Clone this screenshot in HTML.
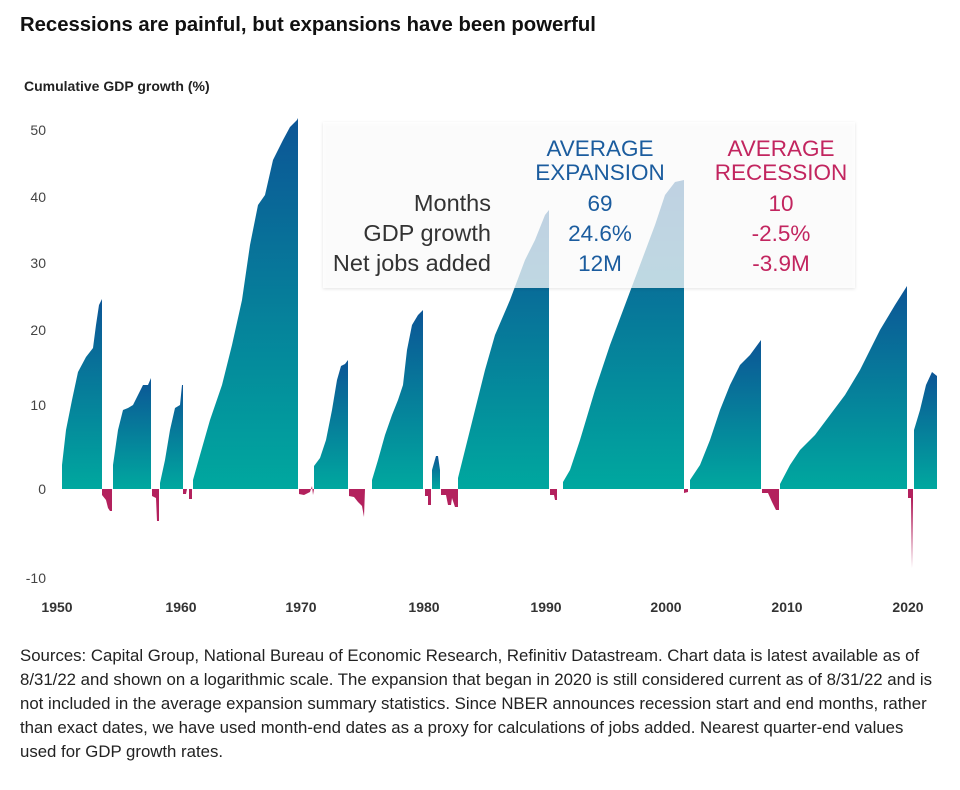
<!DOCTYPE html>
<html><head><meta charset="utf-8"><style>
body{margin:0;background:#fff;width:960px;height:790px;overflow:hidden;font-family:"Liberation Sans",sans-serif;}
.t{position:absolute;left:20px;top:14px;font-size:20.3px;font-weight:bold;color:#111;}
.src{position:absolute;left:20px;top:644px;font-size:16.8px;line-height:24px;color:#222;white-space:nowrap;}
</style></head><body>
<div class="t">Recessions are painful, but expansions have been powerful</div>
<svg width="960" height="640" style="position:absolute;left:0;top:0" font-family="Liberation Sans, sans-serif">
<defs>
<linearGradient id="g" x1="0" y1="1" x2="0" y2="0">
<stop offset="0" stop-color="#00a89f"/><stop offset="1" stop-color="#0c5596"/></linearGradient>
<filter id="sh" x="-5%" y="-5%" width="110%" height="115%"><feDropShadow dx="0" dy="1" stdDeviation="1.5" flood-color="#000" flood-opacity="0.15"/></filter>
</defs>
<text x="24" y="91" font-size="14" font-weight="bold" fill="#222">Cumulative GDP growth (%)</text>
<g font-size="14" fill="#444" text-anchor="end">
<text x="46" y="135">50</text><text x="46" y="202">40</text><text x="46" y="268">30</text>
<text x="46" y="335">20</text><text x="46" y="410">10</text><text x="46" y="494">0</text><text x="46" y="583">-10</text>
</g>
<g font-size="14" font-weight="bold" fill="#333" text-anchor="middle">
<text x="57" y="612">1950</text><text x="181" y="612">1960</text><text x="301" y="612">1970</text><text x="424" y="612">1980</text>
<text x="546" y="612">1990</text><text x="666" y="612">2000</text><text x="787" y="612">2010</text><text x="908" y="612">2020</text>
</g>
<g fill="url(#g)">
<polygon points="62,489 62,465 66,430 72,400 78,372 86,357 93,348 96,325 99,305 102,299 102,489"/>
<polygon points="113,489 113,465 118,430 123,410 128,408 133,405 138,395 143,385 148,385 151,378 151,489"/>
<polygon points="160,489 160,483 165,460 170,430 175,408 180,405 182,385 183,385 183,489"/>
<polygon points="193,489 193,480 200,455 210,420 222,385 232,345 242,300 250,245 258,205 265,195 273,160 283,140 290,127 297,120 298,118 298,489"/>
<polygon points="314,489 314,466 320,458 326,440 332,410 337,380 341,366 345,364 348,360 348,489"/>
<polygon points="372,489 372,480 378,460 385,435 392,415 398,400 403,385 407,350 412,325 418,315 423,310 423,489"/>
<polygon points="432,489 432,470 436,456 438,456 440,470 440,489"/>
<polygon points="458,489 458,478 465,450 475,410 485,370 495,335 510,300 525,260 535,240 545,215 549,210 549,489"/>
<polygon points="563,489 563,482 570,470 580,440 595,390 610,345 625,305 640,265 655,225 665,195 675,182 684,180 684,489"/>
<polygon points="690,489 690,480 700,465 710,440 720,410 730,385 740,365 750,355 761,340 761,489"/>
<polygon points="780,489 780,484 790,465 800,450 815,435 830,415 845,395 860,370 880,330 895,305 907,286 907,489"/>
<polygon points="914,489 914,430 920,410 926,385 932,372 937,376 937,489"/>
</g>
<g fill="#b3215d">
<polygon points="102,489 102,495 106,500 108,508 110,511 112,511 112,489"/>
<polygon points="152,489 152,496 156,498 157,521 159,521 159,489"/>
<polygon points="183,489 183,494 186,494 187,489 189,489 189,499 192,499 192,489"/>
<polygon points="299,489 299,494 304,495 310,492 312,486 313,495 314,489"/>
<polygon points="349,489 349,496 354,497 358,502 362,506 364,517 365,489"/>
<polygon points="425,489 425,496 428,496 428,505 431,505 431,489"/>
<polygon points="441,489 441,495 446,495 448,505 451,505 452,498 455,507 458,507 458,489"/>
<polygon points="550,489 550,495 554,495 555,500 557,500 557,489"/>
<polygon points="684,489 684,493 688,492 688,489"/>
<polygon points="762,489 762,493 768,493 772,502 776,510 779,510 779,489"/>
<polygon points="908,489 908,498 911,498 912,568 913,500 913,489"/>
</g>
<rect x="323" y="122" width="532" height="166" fill="rgba(255,255,255,0.72)" filter="url(#sh)"/>
<g font-size="22.5" text-anchor="middle">
<text x="600" y="156" fill="#1b5c9e">AVERAGE</text><text x="600" y="180" fill="#1b5c9e">EXPANSION</text>
<text x="781" y="156" fill="#c2255f">AVERAGE</text><text x="781" y="180" fill="#c2255f">RECESSION</text>
<text x="600" y="211" fill="#1b5c9e">69</text><text x="600" y="241" fill="#1b5c9e">24.6%</text><text x="600" y="271" fill="#1b5c9e">12M</text>
<text x="781" y="211" fill="#c2255f">10</text><text x="781" y="241" fill="#c2255f">-2.5%</text><text x="781" y="271" fill="#c2255f">-3.9M</text>
</g>
<g font-size="23.5" text-anchor="end" fill="#333">
<text x="491" y="211">Months</text><text x="491" y="241">GDP growth</text><text x="491" y="271">Net jobs added</text>
</g>
</svg>
<div class="src">Sources: Capital Group, National Bureau of Economic Research, Refinitiv Datastream. Chart data is latest available as of<br>8/31/22 and shown on a logarithmic scale. The expansion that began in 2020 is still considered current as of 8/31/22 and is<br>not included in the average expansion summary statistics. Since NBER announces recession start and end months, rather<br>than exact dates, we have used month-end dates as a proxy for calculations of jobs added. Nearest quarter-end values<br>used for GDP growth rates.</div>
</body></html>
